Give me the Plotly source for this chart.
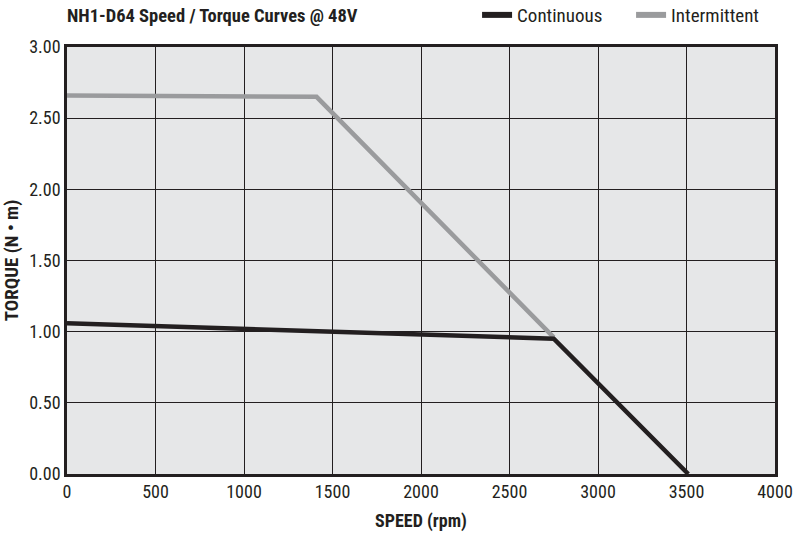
import plotly.graph_objects as go

cont_speed = [0, 1000, 1800, 2750, 3510]
cont_torque = [1.06, 1.02, 0.985, 0.95, 0.0]
inter_speed = [0, 1410, 2750]
inter_torque = [2.66, 2.65, 0.96]

x_ticks = [0, 500, 1000, 1500, 2000, 2500, 3000, 3500, 4000]
y_ticks = [0, 0.5, 1.0, 1.5, 2.0, 2.5, 3.0]
y_labels = ["0.00", "0.50", "1.00", "1.50", "2.00", "2.50", "3.00"]

FONT = "Liberation Sans Narrow, Roboto Condensed, Arial Narrow, sans-serif"

fig = go.Figure()
fig.add_trace(go.Scatter(x=inter_speed, y=inter_torque, mode="lines", name="Intermittent",
                         line=dict(color="#9a9b9d", width=4.5), showlegend=False))
fig.add_trace(go.Scatter(x=cont_speed, y=cont_torque, mode="lines", name="Continuous",
                         line=dict(color="#231f20", width=4.5), showlegend=False))

# legend entries
fig.add_trace(go.Scatter(x=[None], y=[None], mode="lines", name="Continuous",
                         line=dict(color="#231f20", width=6)))
fig.add_trace(go.Scatter(x=[None], y=[None], mode="lines", name="Intermittent",
                         line=dict(color="#9a9b9d", width=6)))

fig.update_layout(
    width=793, height=537,
    margin=dict(l=67, r=18, t=47, b=63, autoexpand=False),
    paper_bgcolor="white", plot_bgcolor="#e6e7e8",
    font=dict(family=FONT, size=18, color="#231f20"),
    title=dict(text="<b>NH1-D64 Speed / Torque Curves @ 48V</b>", x=0.0845, xanchor="left",
               xref="container", y=0.972, yref="container", yanchor="middle",
               font=dict(size=18.5, family=FONT)),
    legend=dict(orientation="h", x=0.99, xanchor="right", xref="container",
                y=0.972, yref="container", yanchor="middle",
                entrywidth=109, entrywidthmode="pixels",
                font=dict(size=19, family=FONT), bgcolor="rgba(0,0,0,0)"),
    xaxis=dict(range=[0, 4000], tickvals=x_ticks, ticktext=[str(v) for v in x_ticks],
               showgrid=True, gridcolor="#231f20", gridwidth=1.2, zeroline=False,
               showline=True, linecolor="#231f20", linewidth=2.5, mirror=True,
               ticks="", tickfont=dict(size=18), automargin=False,
               title=dict(text="<b>SPEED (rpm)</b>", font=dict(size=18), standoff=14)),
    yaxis=dict(range=[0, 3], tickvals=y_ticks, ticktext=y_labels,
               showgrid=True, gridcolor="#231f20", gridwidth=1.2, zeroline=False,
               showline=True, linecolor="#231f20", linewidth=2.5, mirror=True,
               ticks="", tickfont=dict(size=18), automargin=False,
               title=dict(text="<b>TORQUE (N • m)</b>", font=dict(size=19), standoff=10)),
)

fig.write_html("out.html", config={"displayModeBar": False},
               post_script="document.body.style.margin='0';")
